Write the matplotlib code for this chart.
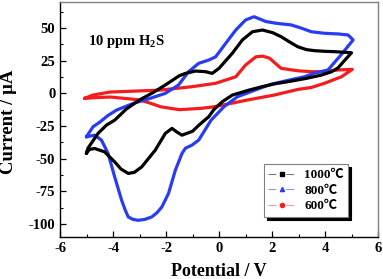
import matplotlib
matplotlib.use("Agg")
import matplotlib.pyplot as plt
from matplotlib.lines import Line2D
from matplotlib.ticker import MultipleLocator

plt.rcParams['font.family'] = ['Liberation Serif', 'Noto Sans CJK SC', 'DejaVu Sans']
plt.rcParams['font.weight'] = 'bold'
plt.rcParams['mathtext.fontset'] = 'custom'
plt.rcParams['mathtext.rm'] = 'Liberation Serif:bold'
plt.rcParams['mathtext.bf'] = 'Liberation Serif:bold'

# ---- data (closed CV loops) ----
x_1000 = [-5.01, -4.95, -4.57, -4.25, -3.94, -3.5, -3.0, -2.5, -2.03, -1.5, -1.27, -0.89, -0.51, -0.26,
          0.0, 0.25, 0.5, 0.88, 1.26, 1.64, 2.02, 2.34, 2.65, 2.97, 3.3, 3.6, 4.0, 4.37, 4.7, 5.0,
          4.75, 4.49, 4.24, 3.86, 3.3, 2.59, 2.15, 1.6, 1.13, 0.5, 0.12, -0.2, -0.39, -0.6, -0.77,
          -1.0, -1.4, -1.6, -1.78, -2.03, -2.41, -2.92, -3.2, -3.43, -3.7, -3.94, -4.32, -4.7, -4.9, -5.01]
y_1000 = [-46, -42, -30.7, -24.3, -20.5, -12, -5, 0.5, 6.4, 13.5, 15.3, 17.1, 16.6, 15.3,
          19.2, 25, 30.7, 40.9, 47.2, 48.5, 46.5, 43.4, 39.5, 35.7, 33.5, 32.7, 32.2, 31.9, 31.5, 31.1,
          25.5, 19.5, 16.5, 14, 11.5, 8.9, 7.5, 5, 2.5, -1.3, -6.4, -12.5, -17.9, -21.5, -24.5,
          -29, -32, -29.5, -26.8, -30.7, -43.5, -56.3, -60.5, -61.3, -58, -52.5, -44.8, -42.2, -43, -46]

x_800 = [-5.01, -4.76, -4.5, -4.2, -3.87, -3.24, -2.6, -2.03, -1.53, -1.15, -0.77, -0.39, -0.13,
         0.25, 0.63, 1.0, 1.32, 1.77, 2.15, 2.72, 3.1, 3.48, 3.98, 4.5, 4.87, 5.06,
         4.6, 4.11, 3.6, 3.22, 2.72, 1.96, 1.7, 0.69, 0.18, -0.3, -0.5, -0.77, -1.02, -1.27, -1.4,
         -1.65, -1.91, -2.16, -2.35, -2.54, -2.8, -3.05, -3.25, -3.43, -3.55, -3.68, -3.94, -4.19,
         -4.44, -4.7, -5.01]
y_800 = [-33.3, -25.6, -22, -17, -12.8, -7.7, -3.8, 0, 6.4, 16.6, 23, 25.5, 28,
         38.3, 48.5, 56.2, 58.7, 55, 53.7, 52.4, 50, 47.2, 46, 45.5, 44.7, 40.9,
         29.4, 17.9, 15.5, 12.7, 10.5, 7, 5.1, -2.6, -10.3, -20.5, -27, -35.8, -39.6, -42, -46,
         -58.8, -76.7, -87, -91.5, -94.6, -96.5, -97.2, -96.5, -94.6, -89, -81.8, -64, -46,
         -35.8, -32, -33.3]

x_600 = [-5.08, -4.76, -4.13, -3.49, -2.22, -1.02, -0.13, 0.63, 1.0, 1.39, 1.64, 1.9, 2.34, 2.97,
         3.48, 3.86, 4.49, 5.03, 4.62, 3.98, 3.48, 2.97, 2.08, 1.07, -0.2, -0.7, -1.5, -2.2,
         -2.6, -3.0, -3.49, -4.1, -4.6, -5.08]
y_600 = [-3.8, -1.3, 1.0, 1.5, 2.5, 5.1, 7.7, 12.7, 21.7, 28, 28.5, 27, 19.2, 17.3,
         16.6, 16.6, 17.9, 18.4, 12.7, 7.7, 4.5, 3.0, -1.3, -5.1, -10.3, -11.5, -12.5, -10.3,
         -7.5, -5, -4, -2.8, -3.2, -3.8]

series = [("1000℃", x_1000, y_1000, "#000000", "s", "#7a7a7a"),
          ("800℃", x_800, y_800, "#2a3cf2", "^", "#8c95f5"),
          ("600℃", x_600, y_600, "#f41c1c", "o", "#f59a9a")]

fig = plt.figure(figsize=(3.83, 2.79), dpi=100)
ax = fig.add_axes([0.157, 0.1505, 0.83, 0.8425])

for name, xs, ys, col, mk, lc in series[::-1]:
    ax.plot(xs, ys, color=col, lw=2.3, solid_joinstyle='round', solid_capstyle='round')

ax.set_xlim(-6, 6)
ax.set_ylim(-110, 70)
ax.xaxis.set_minor_locator(MultipleLocator(1))
ax.yaxis.set_minor_locator(MultipleLocator(12.5))
ax.tick_params(which='both', direction='in', top=False, right=False, labelsize=10.5)
ax.tick_params(which='major', length=4, width=0.9)
ax.tick_params(which='minor', length=2.5, width=0.8)
ax.set_xticks([-6, -4, -2, 0, 2, 4, 6])
ax.set_xticklabels(['-6', '-4', '-2', '0', '2', '4', '6'])
ax.set_yticks([-100, -75, -50, -25, 0, 25, 50])
ax.set_yticklabels(['-100', '-75', '-50', '-25', '0', '25', '50'])
for lab in ax.get_xticklabels() + ax.get_yticklabels():
    lab.set_fontweight('bold')

for s in ['left', 'bottom']:
    ax.spines[s].set_color('black')
    ax.spines[s].set_linewidth(1.0)
for s in ['top', 'right']:
    ax.spines[s].set_color('#808080')
    ax.spines[s].set_linewidth(1.0)

ax.set_xlabel('Potential / V', fontsize=13, fontweight='bold', labelpad=6)
ax.set_ylabel('Current / μA', fontsize=13.5, fontweight='bold')
ax.yaxis.set_label_coords(-0.135, 0.49)

ax.text(-4.95, 39.5, r'10 ppm H$_\mathbf{2}$S', fontsize=10.5, fontweight='bold', va='center', ha='left')

handles = [Line2D([0], [0], color=lc, lw=0.8, linestyle=(0, (7.0, 9.0)), marker=mk,
                  markersize=3, markerfacecolor=col, markeredgecolor=col)
           for name, xs, ys, col, mk, lc in series]
labels = [s[0] for s in series]
leg = ax.legend(handles, labels, loc='lower right', bbox_to_anchor=(0.907, 0.085),
                frameon=True, fancybox=False, shadow={'color': 'black', 'alpha': 1},
                prop={'weight': 'bold', 'size': 9.5}, handlelength=2.0, handletextpad=0.7,
                labelspacing=0.25, borderpad=0.35, borderaxespad=0)
leg.get_frame().set_edgecolor('#808080')
leg.get_frame().set_linewidth(0.8)

fig.savefig('out.png', dpi=100)
